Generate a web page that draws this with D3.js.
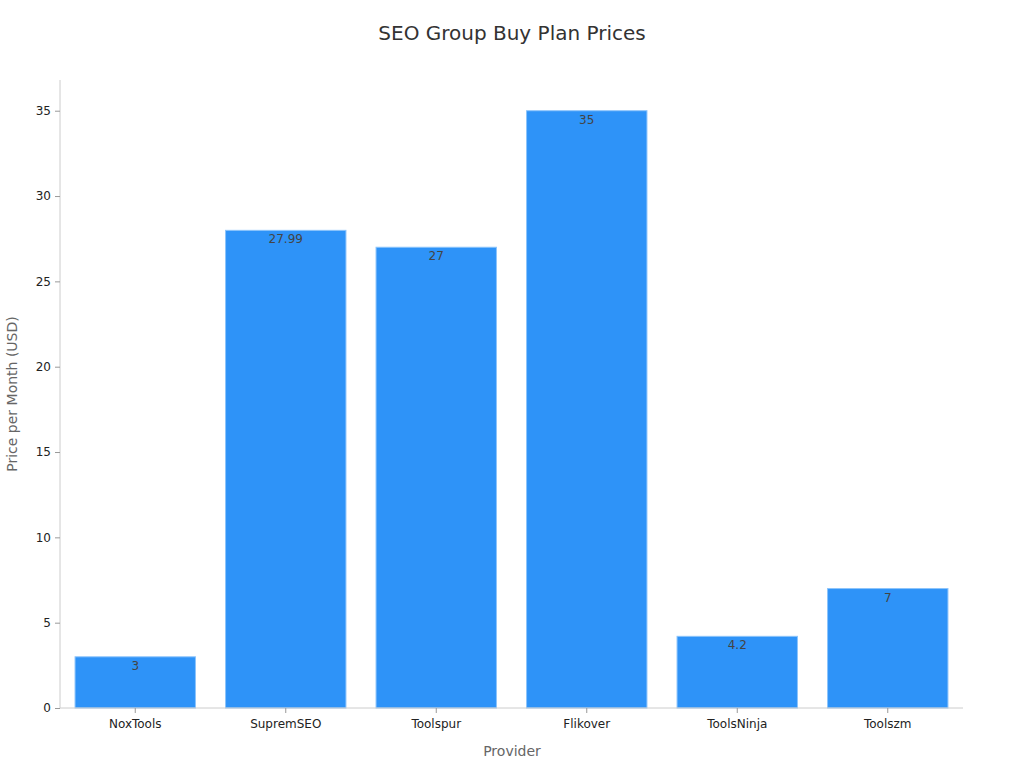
<!DOCTYPE html>
<html><head><meta charset="utf-8">
<script src="https://cdn.jsdelivr.net/npm/d3@7"></script>
<style>body{margin:0;background:#fff;font-family:"DejaVu Sans",sans-serif}</style>
</head><body><svg id="c" width="1024" height="768"></svg>
<script>
const categories=["NoxTools","SupremSEO","Toolspur","Flikover","ToolsNinja","Toolszm"];
const prices=[3,27.99,27,35,4.2,7];
const yTicks=[0,5,10,15,20,25,30,35];

const svg=d3.select("#c");
const m={l:60,r:963,t:80,b:708};
const x=d3.scaleBand().domain(categories).range([m.l,m.r]).paddingInner(0.2).paddingOuter(0.1);
const y=d3.scaleLinear().domain([0,36.8]).range([m.b,m.t]);

svg.append("text").attr("x",512).attr("y",40).attr("text-anchor","middle")
 .attr("font-size",20).attr("fill","#333").text("SEO Group Buy Plan Prices");

svg.selectAll("rect.bar").data(prices).join("rect").attr("class","bar")
 .attr("x",(d,i)=>x(categories[i])).attr("width",x.bandwidth())
 .attr("y",d=>y(d)).attr("height",d=>y(0)-y(d))
 .attr("fill","#2e93f8").attr("stroke","#8cc4fb").attr("stroke-width",1);

svg.selectAll("text.val").data(prices).join("text").attr("class","val")
 .attr("x",(d,i)=>x(categories[i])+x.bandwidth()/2).attr("y",d=>y(d)+13)
 .attr("text-anchor","middle").attr("font-size",12).attr("fill","#444").text(d=>d);

const ya=svg.append("g").attr("transform",`translate(${m.l},0)`)
 .call(d3.axisLeft(y).tickValues(yTicks).tickSize(5).tickPadding(4));
const xa=svg.append("g").attr("transform",`translate(0,${m.b})`)
 .call(d3.axisBottom(x).tickSize(5).tickPadding(6));
[ya,xa].forEach(a=>{a.select(".domain").attr("stroke","#ccc");a.selectAll(".tick line").attr("stroke","#999");
 a.selectAll("text").attr("font-size",12).attr("fill","#222").attr("font-family","DejaVu Sans");});
xa.select(".domain").attr("d",`M${m.l},0H${m.r}`);
ya.select(".domain").attr("d",`M0,${m.t}V${m.b}`);

svg.append("text").attr("x",512).attr("y",756).attr("text-anchor","middle")
 .attr("font-size",14).attr("fill","#666").text("Provider");
svg.append("text").attr("transform","translate(17,394) rotate(-90)").attr("text-anchor","middle")
 .attr("font-size",14).attr("fill","#666").text("Price per Month (USD)");
</script></body></html>
